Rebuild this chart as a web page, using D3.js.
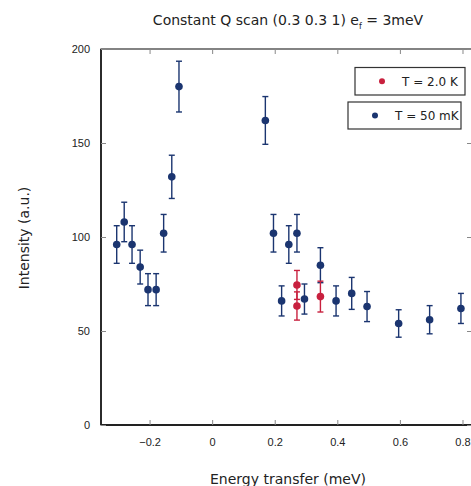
<!DOCTYPE html>
<html>
<head>
<meta charset="utf-8">
<script src="https://cdn.jsdelivr.net/npm/d3@7"></script>
<style>
  body { margin: 0; background: #fff; }
  svg { display: block; }
  text { font-family: "Liberation Sans", Arial, sans-serif; fill: #222; }
  .label { font-family: "DejaVu Sans", sans-serif; }
</style>
</head>
<body>
<svg id="chart" width="471" height="486"></svg>
<script>
// T = 50 mK series
const energy50mK = [-0.305, -0.281, -0.256, -0.23, -0.205, -0.179, -0.155, -0.129, -0.106,
    0.17, 0.196, 0.222, 0.245, 0.271, 0.295, 0.346, 0.396, 0.446, 0.495, 0.596, 0.695, 0.795];
const intensity50mK = [96, 108, 96, 84, 72, 72, 102, 132, 180,
    162, 102, 66, 96, 102, 67, 85, 66, 70, 63, 54, 56, 62];
const error50mK = [10, 10.5, 10, 9, 8.5, 8.5, 10, 11.5, 13.5,
    12.7, 10, 8, 10, 10, 8, 9.3, 8, 8.5, 8, 7.3, 7.5, 8];

// T = 2.0 K series
const energy2K = [0.271, 0.271, 0.346];
const intensity2K = [74.5, 63.3, 68.3];
const error2K = [7.7, 7.5, 8.2];

const xTicks = [-0.2, 0, 0.2, 0.4, 0.6, 0.8];
const yTicks = [0, 50, 100, 150, 200];

const chartProperties = {
    xMax: 471,
    yMax: 486,
    margins: {left: 101, right: -1, top: 49, bottom: 61}
};

const blue = '#1b3570';
const red = '#c8203e';

function getChartWidth(p) {
    return p.xMax - (p.margins.left + p.margins.right);
}

function getChartHeight(p) {
    return p.yMax - (p.margins.top + p.margins.bottom);
}

const w = getChartWidth(chartProperties);
const h = getChartHeight(chartProperties);

const svg = d3.select('#chart');
const g = svg.append('g')
    .attr('transform', `translate(${chartProperties.margins.left} ${chartProperties.margins.top})`);

const xScale = d3.scaleLinear().domain([-0.3552, 0.8304]).range([0, w]);
const yScale = d3.scaleLinear().domain([0, 200]).range([h, 0]);

// frame
g.append('rect')
    .attr('width', w).attr('height', h)
    .attr('fill', 'none').attr('stroke', '#333').attr('stroke-width', 1.2);
g.append('line').attr('x1', 0).attr('x2', 0).attr('y1', 0).attr('y2', h)
    .attr('stroke', '#222').attr('stroke-width', 1.8);
g.append('line').attr('x1', 0).attr('x2', w).attr('y1', h).attr('y2', h)
    .attr('stroke', '#222').attr('stroke-width', 1.8);

// axes with inward ticks
const xAxis = g.append('g').attr('transform', `translate(0 ${h})`)
    .call(d3.axisBottom(xScale).tickValues(xTicks).tickSizeInner(-5).tickSizeOuter(0).tickPadding(13)
        .tickFormat(d => d === 0 ? '0' : d3.format('.1f')(d)));
const xAxisTop = g.append('g')
    .call(d3.axisTop(xScale).tickValues(xTicks).tickSizeInner(-5).tickSizeOuter(0).tickFormat(''));
const yAxis = g.append('g')
    .call(d3.axisLeft(yScale).tickValues(yTicks).tickSizeInner(-5).tickSizeOuter(0).tickPadding(11));
const yAxisRight = g.append('g').attr('transform', `translate(${w} 0)`)
    .call(d3.axisRight(yScale).tickValues(yTicks).tickSizeInner(-5).tickSizeOuter(0).tickFormat(''));

[xAxis, xAxisTop, yAxis, yAxisRight].forEach(a => {
    a.select('.domain').remove();
    a.selectAll('.tick line').attr('stroke', '#888');
    a.selectAll('text').style('font-size', '11px').attr('fill', '#222');
});

function appendSeries(xs, ys, es, color) {
    const data = xs.map((x, i) => ({x: x, y: ys[i], e: es[i]}));
    const s = g.append('g');
    const cap = 3;
    s.selectAll('line.bar').data(data).enter().append('line')
        .attr('x1', d => xScale(d.x)).attr('x2', d => xScale(d.x))
        .attr('y1', d => yScale(d.y - d.e)).attr('y2', d => yScale(d.y + d.e))
        .attr('stroke', color).attr('stroke-width', 1.4);
    s.selectAll('line.top').data(data).enter().append('line')
        .attr('x1', d => xScale(d.x) - cap).attr('x2', d => xScale(d.x) + cap)
        .attr('y1', d => yScale(d.y + d.e)).attr('y2', d => yScale(d.y + d.e))
        .attr('stroke', color).attr('stroke-width', 1.4);
    s.selectAll('line.bot').data(data).enter().append('line')
        .attr('x1', d => xScale(d.x) - cap).attr('x2', d => xScale(d.x) + cap)
        .attr('y1', d => yScale(d.y - d.e)).attr('y2', d => yScale(d.y - d.e))
        .attr('stroke', color).attr('stroke-width', 1.4);
    s.selectAll('circle').data(data).enter().append('circle')
        .attr('cx', d => xScale(d.x)).attr('cy', d => yScale(d.y))
        .attr('r', 3.8).attr('fill', color);
}

appendSeries(energy50mK, intensity50mK, error50mK, blue);
appendSeries(energy2K, intensity2K, error2K, red);

// legend
function appendLegend(x, y, bw, bh, label, color) {
    const lg = svg.append('g').attr('transform', `translate(${x} ${y})`);
    lg.append('rect').attr('width', bw).attr('height', bh)
        .attr('fill', '#fff').attr('stroke', '#333').attr('stroke-width', 1.2);
    lg.append('circle').attr('cx', 27).attr('cy', bh / 2).attr('r', 3).attr('fill', color);
    lg.append('text').attr('class', 'label').attr('x', 47).attr('y', bh / 2 + 4.5)
        .style('font-size', '12px').attr('fill', color).text(label);
}
appendLegend(355, 67.5, 110, 27.5, 'T = 2.0 K', red);
appendLegend(348, 102, 113, 27, 'T = 50 mK', blue);

// title
const title = svg.append('text').attr('class', 'label').attr('x', 288).attr('y', 25)
    .attr('text-anchor', 'middle').style('font-size', '14px');
title.append('tspan').text('Constant Q scan (0.3 0.3 1) e');
title.append('tspan').attr('dy', 4).style('font-size', '8px').text('f');
title.append('tspan').attr('dy', -4).text(' = 3meV');

// axis titles
svg.append('text').attr('class', 'label').attr('x', 288).attr('y', 484)
    .attr('text-anchor', 'middle').style('font-size', '14px').text('Energy transfer (meV)');
svg.append('text').attr('class', 'label').attr('transform', 'translate(24 238) rotate(-90)')
    .attr('text-anchor', 'middle').attr('dy', '0.35em').style('font-size', '14px').text('Intensity (a.u.)');
</script>
</body>
</html>
